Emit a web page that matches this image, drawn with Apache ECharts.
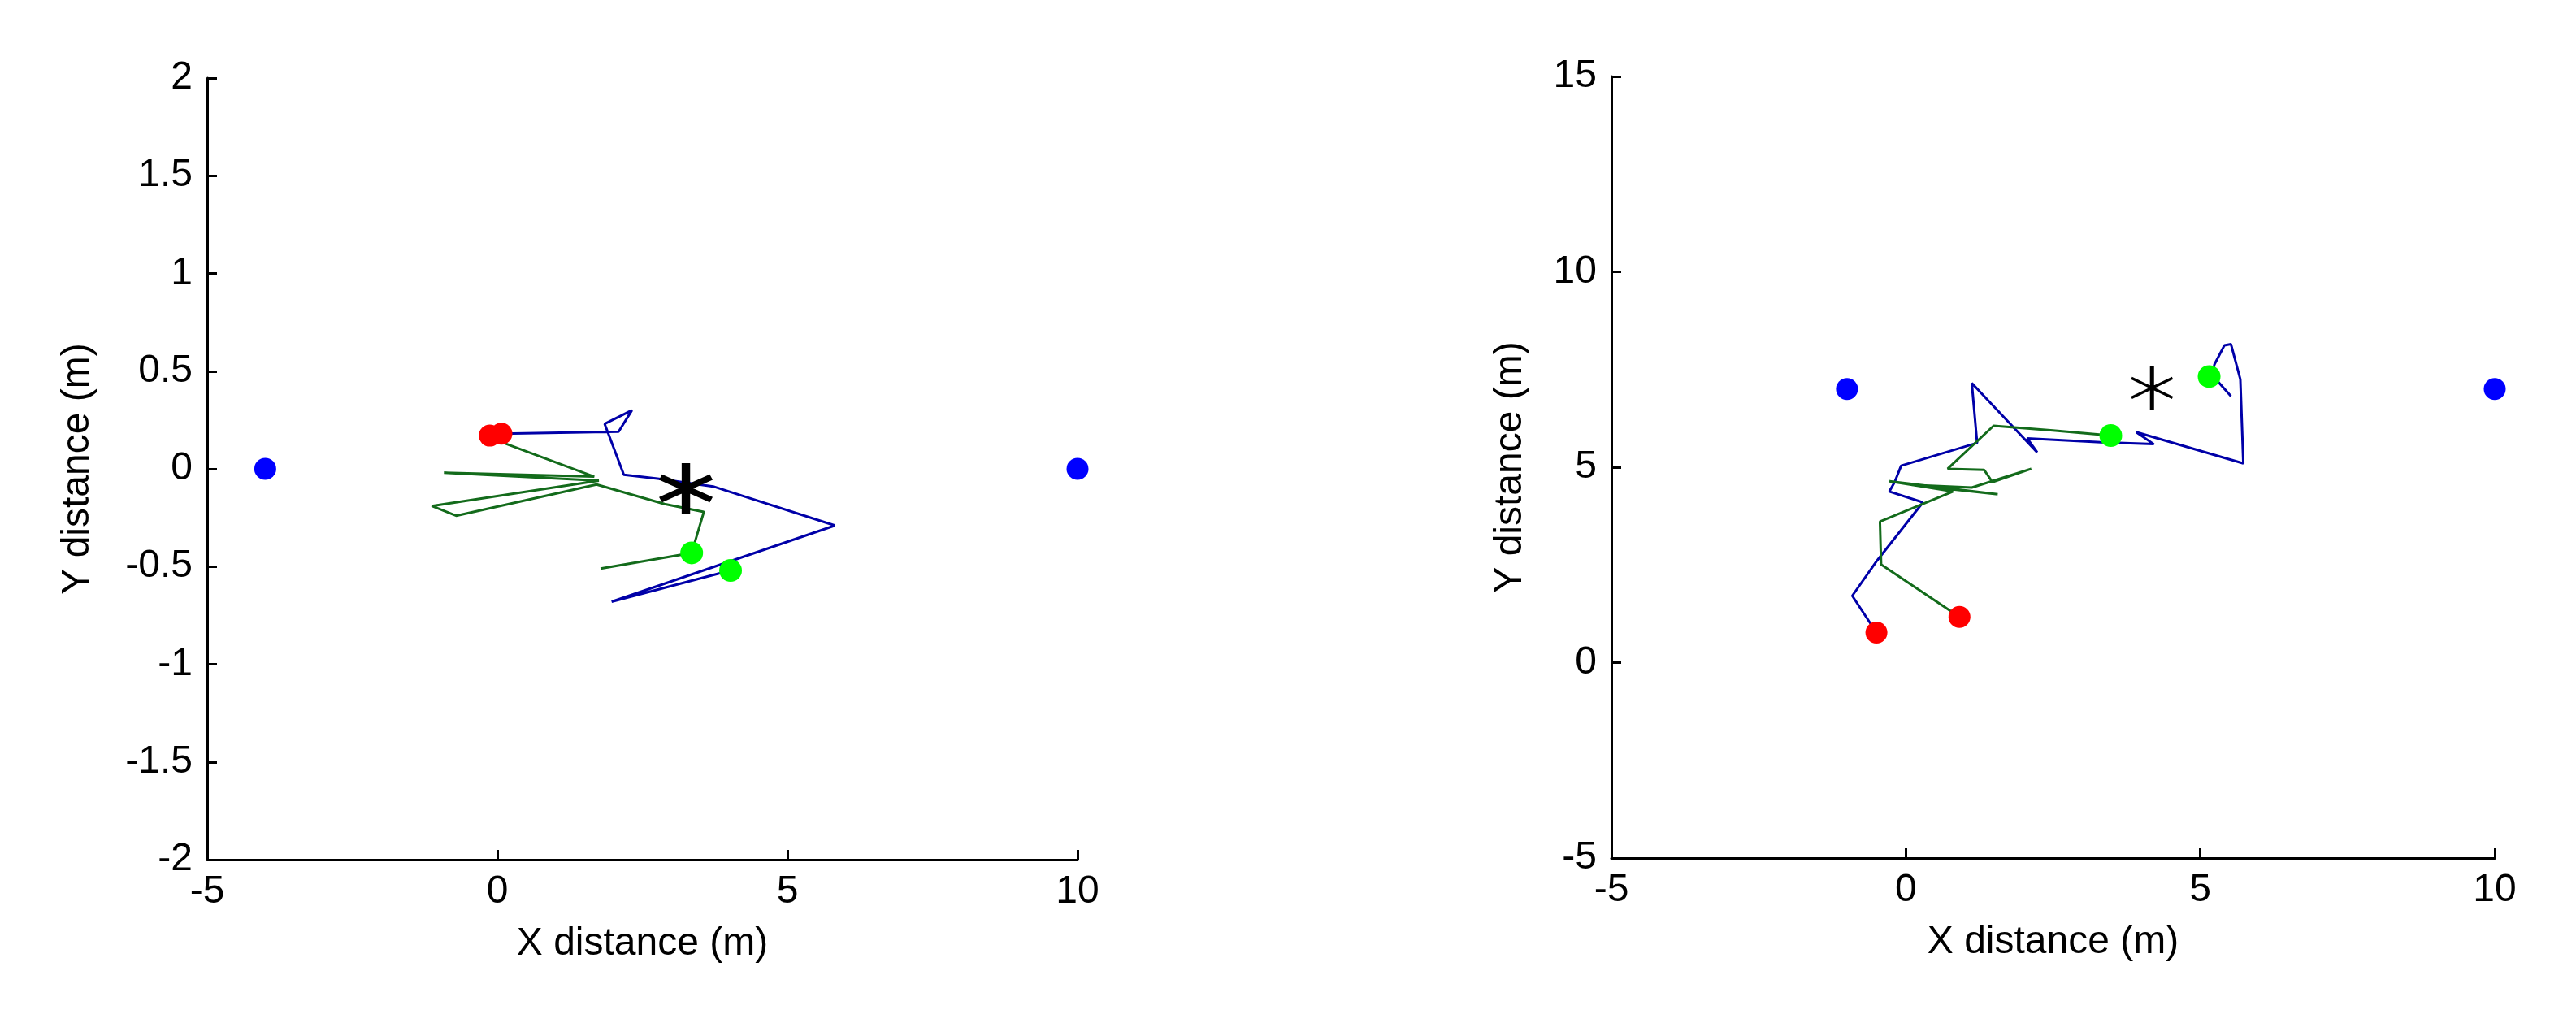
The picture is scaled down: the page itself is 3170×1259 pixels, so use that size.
<!DOCTYPE html>
<html>
<head>
<meta charset="utf-8">
<script src="https://cdn.jsdelivr.net/npm/echarts@6/dist/echarts.min.js"></script>
<style>
  html, body { margin: 0; padding: 0; background: #fff; }
  #chart { width: 3170px; height: 1259px; }
</style>
</head>
<body>
<div id="chart"></div>
<script>
// left panel
const leftBeacons = [[-4, 0], [10, 0]]
const leftStarts = [[-0.13, 0.17], [0.07, 0.18]]
const leftEnds = [[3.35, -0.43], [4.02, -0.52]]
const leftTarget = [[3.25, -0.1]]
const leftPathBlue = [[0.07, 0.18], [2.09, 0.19], [2.32, 0.30], [1.85, 0.23], [2.18, -0.03],
  [2.76, -0.05], [3.72, -0.09], [5.82, -0.29], [1.97, -0.68], [4.02, -0.52]]
const leftPathGreen = [[-0.05, 0.15], [1.67, -0.04], [-0.92, -0.02], [1.75, -0.06], [-1.13, -0.19],
  [-0.71, -0.24], [1.71, -0.08], [2.88, -0.18], [3.56, -0.22], [3.35, -0.43], [1.78, -0.51]]

// right panel
const rightBeacons = [[-1, 7], [10, 7]]
const rightStarts = [[-0.5, 0.77], [0.91, 1.17]]
const rightEnds = [[3.48, 5.81], [5.15, 7.32]]
const rightTarget = [[4.18, 7.03]]
const rightPathBlue = [[-0.5, 0.77], [-0.91, 1.71], [-0.49, 2.61], [0.29, 4.10], [-0.28, 4.38],
  [-0.19, 4.62], [-0.08, 5.04], [1.21, 5.62], [1.12, 7.15], [2.23, 5.38], [2.06, 5.74],
  [3.31, 5.64], [4.21, 5.59], [3.91, 5.90], [5.73, 5.10], [5.68, 7.25], [5.52, 8.15],
  [5.41, 8.12], [5.24, 7.63], [5.20, 7.36], [5.52, 6.82]]
const rightPathGreen = [[0.91, 1.17], [-0.42, 2.51], [-0.44, 3.61], [0.8, 4.38], [-0.28, 4.64],
  [1.56, 4.31], [0.1, 4.55], [1.12, 4.48], [2.13, 4.96], [1.47, 4.62], [1.33, 4.93],
  [0.71, 4.96], [1.49, 6.06], [2.50, 5.94], [3.48, 5.81]]

const xName = 'X distance (m)'
const yName = 'Y distance (m)'
const font = 'Liberation Sans'

// asterisk marker: one vertical bar and two slanted bars
function asterisk(v, d) {
  const px = d * 0.447, py = d * 0.894
  return 'path://M' + (-v) + ',-100L' + v + ',-100L' + v + ',100L' + (-v) + ',100Z' +
    'M' + (-90 + px) + ',' + (-45 - py) + 'L' + (90 + px) + ',' + (45 - py) +
    'L' + (90 - px) + ',' + (45 + py) + 'L' + (-90 - px) + ',' + (-45 + py) + 'Z' +
    'M' + (-90 - px) + ',' + (45 - py) + 'L' + (90 - px) + ',' + (-45 - py) +
    'L' + (90 + px) + ',' + (-45 + py) + 'L' + (-90 + px) + ',' + (45 + py) + 'Z'
}

function axis(extra) {
  return Object.assign({
    type: 'value',
    axisLine: { show: true, onZero: false, lineStyle: { color: '#000', width: 3 } },
    axisTick: { show: true, inside: true, length: 12, lineStyle: { color: '#000', width: 3 } },
    splitLine: { show: false },
    axisLabel: { color: '#000', fontSize: 48, fontFamily: font },
    nameLocation: 'middle',
    nameTextStyle: { color: '#000', fontSize: 48, fontFamily: font }
  }, extra)
}

function panelSeries(idx, o) {
  const base = { xAxisIndex: idx, yAxisIndex: idx }
  return [
    Object.assign({ type: 'line', data: o.blue, showSymbol: false, symbol: 'none',
      lineStyle: { color: '#0000a8', width: 3 } }, base),
    Object.assign({ type: 'line', data: o.green, showSymbol: false, symbol: 'none',
      lineStyle: { color: '#136b1b', width: 3 } }, base),
    Object.assign({ type: 'scatter', data: o.beacons, symbolSize: 27,
      itemStyle: { color: '#0000ff', opacity: 1 }, z: 3 }, base),
    Object.assign({ type: 'scatter', data: o.starts, symbolSize: 27,
      itemStyle: { color: '#ff0000', opacity: 1 }, z: 3 }, base),
    Object.assign({ type: 'scatter', data: o.ends, symbolSize: 28,
      itemStyle: { color: '#00ff00', opacity: 1 }, z: 3 }, base),
    Object.assign({ type: 'scatter', data: o.target, symbol: o.star, symbolSize: o.starSize,
      symbolKeepAspect: false, itemStyle: { color: '#000', opacity: 1 }, z: 4 }, base)
  ]
}

const chart = echarts.init(document.getElementById('chart'))
chart.setOption({
  animation: false,
  backgroundColor: '#fff',
  grid: [
    { left: 255, top: 96, width: 1071, height: 962 },
    { left: 1983, top: 94, width: 1087, height: 962 }
  ],
  xAxis: [
    axis({ gridIndex: 0, min: -5, max: 10, interval: 5, name: xName, nameGap: 80,
      axisLabel: { color: '#000', fontSize: 48, fontFamily: font, margin: 16 } }),
    axis({ gridIndex: 1, min: -5, max: 10, interval: 5, name: xName, nameGap: 80,
      axisLabel: { color: '#000', fontSize: 48, fontFamily: font, margin: 16 } })
  ],
  yAxis: [
    axis({ gridIndex: 0, min: -2, max: 2, interval: 0.5, name: yName, nameGap: 135,
      axisLabel: { color: '#000', fontSize: 48, fontFamily: font, margin: 18 } }),
    axis({ gridIndex: 1, min: -5, max: 15, interval: 5, name: yName, nameGap: 100,
      axisLabel: { color: '#000', fontSize: 48, fontFamily: font, margin: 18 } })
  ],
  series: [].concat(
    panelSeries(0, { blue: leftPathBlue, green: leftPathGreen, beacons: leftBeacons,
      starts: leftStarts, ends: leftEnds, target: leftTarget,
      star: asterisk(15, 12), starSize: [66, 62] }),
    panelSeries(1, { blue: rightPathBlue, green: rightPathGreen, beacons: rightBeacons,
      starts: rightStarts, ends: rightEnds, target: rightTarget,
      star: asterisk(9, 6), starSize: [52, 54] })
  )
})
</script>
</body>
</html>
